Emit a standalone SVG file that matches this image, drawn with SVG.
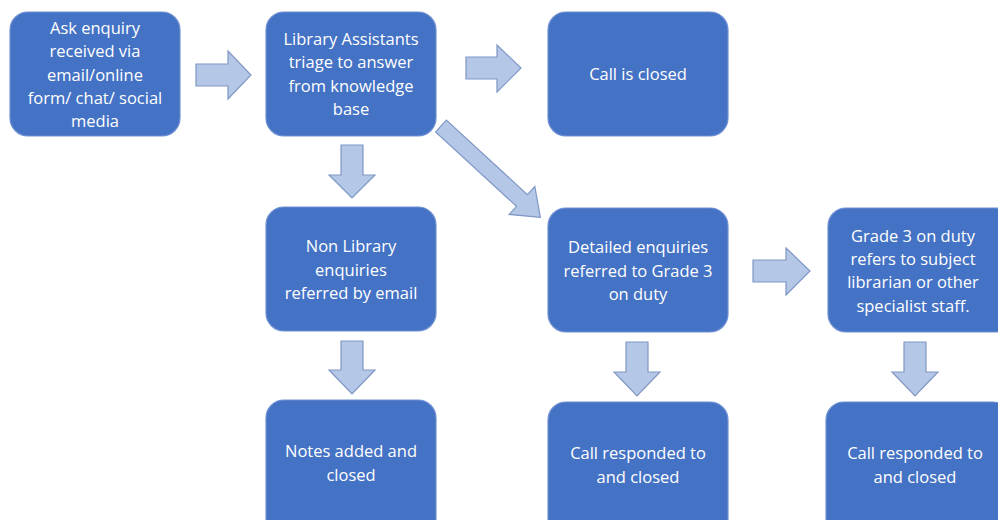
<svg xmlns="http://www.w3.org/2000/svg" width="998" height="520" viewBox="0 0 998 520">
<style>
.box{fill:#4472C4;stroke:#6F90D2;stroke-width:1.2}
.t{font-family:"Open Sans","Liberation Sans",sans-serif;font-size:16.5px;fill:#ffffff;text-anchor:middle}
.arr{fill:#B4C7E7;stroke:#7F97C4;stroke-width:1.2}
</style>
<rect width="998" height="520" fill="#ffffff"/>
<g id="n1"><rect class="box" x="10" y="12" width="170" height="124" rx="18"/>
<text class="t" x="95" y="34">Ask enquiry</text><text class="t" x="95" y="57">received via</text><text class="t" x="95" y="81">email/online</text><text class="t" x="95" y="104">form/ chat/ social</text><text class="t" x="95" y="127">media</text></g>
<g id="n2"><rect class="box" x="266" y="12" width="170" height="124" rx="18"/>
<text class="t" x="351" y="45">Library Assistants</text><text class="t" x="351" y="68">triage to answer</text><text class="t" x="351" y="92">from knowledge</text><text class="t" x="351" y="115">base</text></g>
<g id="n3"><rect class="box" x="548" y="12" width="180" height="124" rx="18"/>
<text class="t" x="638" y="80">Call is closed</text></g>
<g id="n4"><rect class="box" x="266" y="207" width="170" height="124" rx="18"/>
<text class="t" x="351" y="252">Non Library</text><text class="t" x="351" y="276">enquiries</text><text class="t" x="351" y="299">referred by email</text></g>
<g id="n5"><rect class="box" x="548" y="208" width="180" height="124" rx="18"/>
<text class="t" x="638" y="253">Detailed enquiries</text><text class="t" x="638" y="277">referred to Grade 3</text><text class="t" x="638" y="300">on duty</text></g>
<g id="n6"><rect class="box" x="828" y="208" width="185" height="124" rx="18"/>
<text class="t" x="913" y="242">Grade 3 on duty</text><text class="t" x="913" y="265">refers to subject</text><text class="t" x="913" y="288">librarian or other</text><text class="t" x="913" y="312">specialist staff.</text></g>
<g id="n7"><rect class="box" x="266" y="400" width="170" height="140" rx="18"/>
<text class="t" x="351" y="457">Notes added and</text><text class="t" x="351" y="481">closed</text></g>
<g id="n8"><rect class="box" x="548" y="402" width="180" height="140" rx="18"/>
<text class="t" x="638" y="459">Call responded to</text><text class="t" x="638" y="483">and closed</text></g>
<g id="n9"><rect class="box" x="826" y="402" width="185" height="140" rx="18"/>
<text class="t" x="915" y="459">Call responded to</text><text class="t" x="915" y="483">and closed</text></g>
<g id="connectors">
<polygon class="arr" points="196,64 228,64 228,51 251,75 228,99 228,86 196,86"/>
<polygon class="arr" points="466,57 497,57 497,45 521,68 497,92 497,79 466,79"/>
<polygon class="arr" points="753,260 786,260 786,248 810,271 786,295 786,282 753,282"/>
<polygon class="arr" points="341,145 363,145 363,175 375,175 352,198 329,175 341,175"/>
<polygon class="arr" points="341,341 363,341 363,370 375,370 352,394 329,370 341,370"/>
<polygon class="arr" points="626,342 648,342 648,372 660,372 637,396 614,372 626,372"/>
<polygon class="arr" points="904,342 926,342 926,372 938,372 915,396 892,372 904,372"/>
<polygon class="arr" transform="translate(441,126) rotate(42.6)" points="0,-8 110,-8 110,-19 135,0 110,19 110,8 0,8"/>
</g>
</svg>
